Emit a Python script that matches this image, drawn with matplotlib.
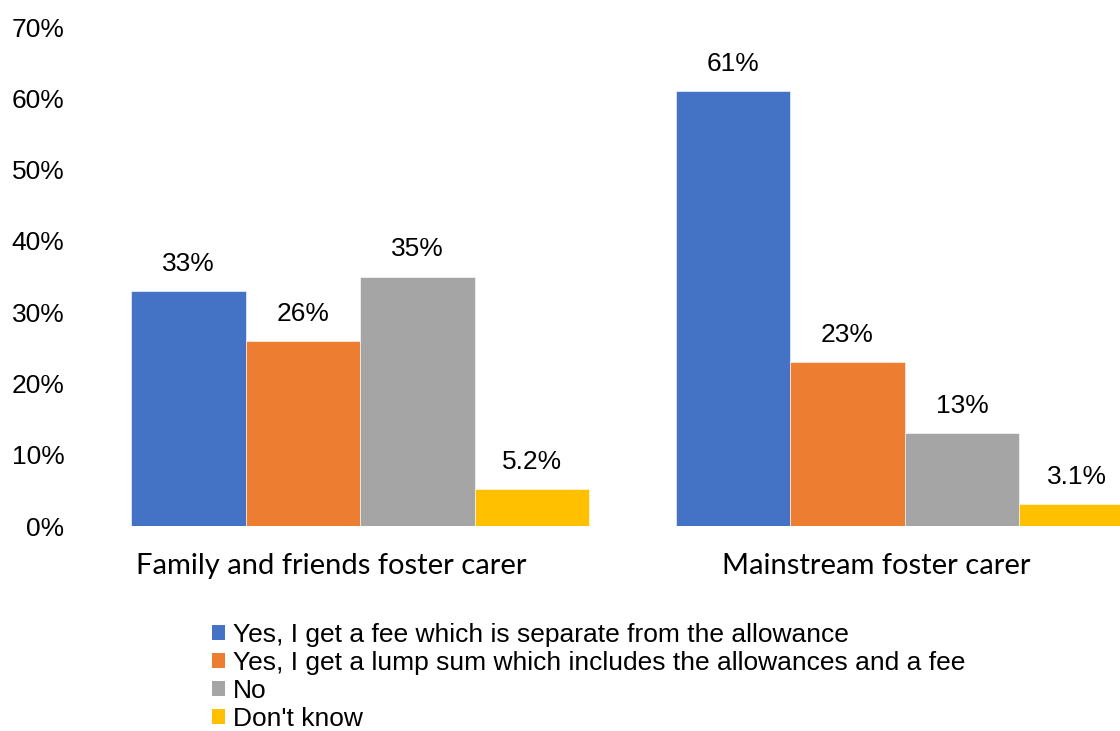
import numpy as np
import matplotlib.pyplot as plt
from matplotlib.patches import Patch

plt.rcParams['font.family'] = ['Liberation Sans', 'DejaVu Sans']

categories = ['Family and friends foster carer', 'Mainstream foster carer']
series = ['Yes, I get a fee which is separate from the allowance',
          'Yes, I get a lump sum which includes the allowances and a fee',
          'No',
          "Don't know"]
values = [
    [0.33, 0.61],
    [0.26, 0.23],
    [0.35, 0.13],
    [0.052, 0.031],
]
value_labels = [
    ['33%', '61%'],
    ['26%', '23%'],
    ['35%', '13%'],
    ['5.2%', '3.1%'],
]
colors = ['#4472C4', '#ED7D31', '#A5A5A5', '#FFC000']

fig = plt.figure(figsize=(11.2, 7.31), dpi=100)
ax = fig.add_axes([88 / 1120, 0.2804, 1032 / 1120, 0.6826])

x = np.arange(len(categories)) + 0.5
bw = 0.2103
for i, (vals, labs, c) in enumerate(zip(values, value_labels, colors)):
    pos = x + (i - 1.5) * bw
    ax.bar(pos, vals, width=bw, color=c, edgecolor='white', linewidth=0.4)
    for p, v, t in zip(pos, vals, labs):
        ax.text(p, v + 0.038, t, ha='center', va='center', fontsize=19)

ax.set_xlim(0, 1032 / 544.5)
ax.set_ylim(0, 0.70)
ax.set_yticks(np.arange(0, 0.71, 0.10))
ax.set_yticklabels([f'{int(round(t * 100))}%' for t in np.arange(0, 0.71, 0.10)])
ax.tick_params(axis='y', length=0, labelsize=19, pad=17)
ax.set_xticks([])
for s in ax.spines.values():
    s.set_visible(False)

# category names sit a little left of the bar groups
for xc, name in zip(x, categories):
    ax.text(xc - 0.053, -0.056, name, ha='center', va='center',
            fontsize=21, family=['Lato', 'DejaVu Sans'])

handles = [Patch(facecolor=c, edgecolor='none') for c in colors]
fig.legend(handles, series, loc='upper left', bbox_to_anchor=(212 / 1120, 1 - 623 / 731),
           frameon=False, fontsize=19, handlelength=0.5, handleheight=0.5,
           handletextpad=0.3, labelspacing=0.15, borderaxespad=0, borderpad=0)

fig.savefig('out.png', dpi=100)
